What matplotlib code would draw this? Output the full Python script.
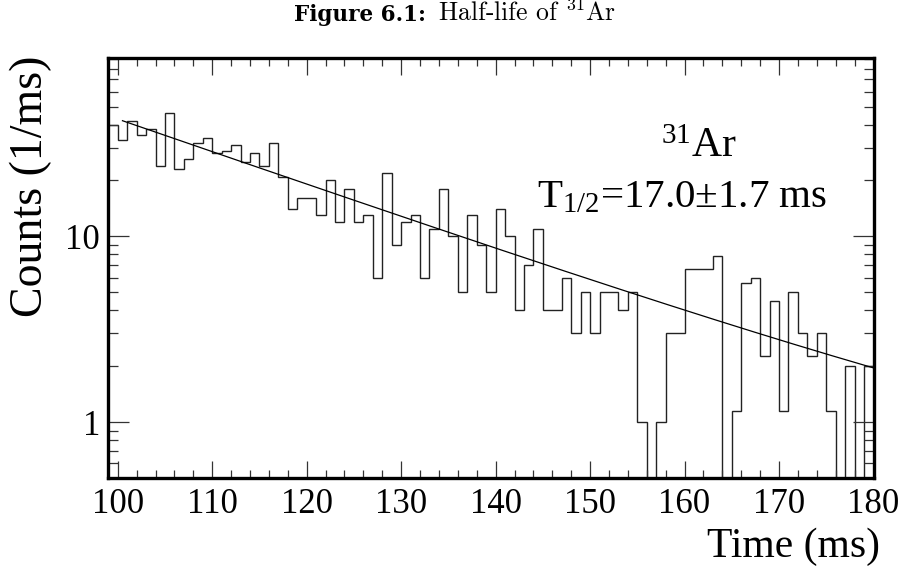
import numpy as np
import matplotlib
matplotlib.use("Agg")
import matplotlib.pyplot as plt
from matplotlib.ticker import FixedLocator, NullFormatter, LogLocator

plt.rcParams['font.family'] = ['Liberation Serif', 'DejaVu Serif']
plt.rcParams['mathtext.fontset'] = 'custom'
plt.rcParams['mathtext.rm'] = 'Liberation Serif'
plt.rcParams['mathtext.it'] = 'Liberation Serif:italic'
plt.rcParams['mathtext.bf'] = 'Liberation Serif:bold'

# ---- data: counts per 1-ms bin, bins starting at 99 ms ----
bin_start = 99
bin_width = 1
counts = [40, 33, 42, 35, 38, 24, 46, 23, 26, 32,
          34, 28, 29, 31, 25, 28, 24, 32, 21, 14,
          16, 16, 13, 20, 12, 18, 12, 13, 6, 22,
          9, 12, 13, 6, 11, 18, 10, 5, 13, 9,
          5, 14, 10, 4, 7, 11, 4, 4, 6, 3,
          5, 3, 5, 5, 4, 5, 1, 0, 1, 3,
          3, 6.7, 6.7, 6.7, 7.8, 0, 1.15, 5.6, 6.0, 2.26,
          4.5, 1.15, 5, 3, 2.26, 3, 1.15, 0, 2, 0,
          2]

# fit: A*exp(-ln2 (t-100)/T) + B
T_half = 17.0
T_err = 1.7
fit_amp = 42.5
fit_bkg = 0.33
fit_start = 100.5
fit_end = 180.0

x_ticks = [100, 110, 120, 130, 140, 150, 160, 170, 180]
y_ticks = [1, 10]

counts = np.array(counts, dtype=float)
edges = bin_start + bin_width * np.arange(len(counts) + 1)

fig = plt.figure(figsize=(9.05, 5.70), dpi=100)
ax = fig.add_axes([108.3/905, 1-478/570, (873.5-108.3)/905, (478-58.3)/570])

ax.set_yscale('log', nonpositive='clip')
ax.stairs(counts, edges, baseline=None, color='#222222', lw=1.0)

tt = np.linspace(fit_start, fit_end, 400)
ff = fit_amp * np.exp(-np.log(2) * (tt - 100) / T_half) + fit_bkg
ax.plot(tt, ff, color='black', lw=0.9)

ax.set_xlim(99, 180)
ax.set_ylim(0.5, 91)

ax.xaxis.set_major_locator(FixedLocator(x_ticks))
ax.xaxis.set_minor_locator(FixedLocator(np.arange(100, 181, 2)))
ax.set_xticklabels([str(v) for v in x_ticks])
ax.yaxis.set_major_locator(FixedLocator(y_ticks))
ax.set_yticklabels([str(v) for v in y_ticks])
ax.yaxis.set_minor_locator(LogLocator(base=10, subs=np.arange(2, 10)))
ax.yaxis.set_minor_formatter(NullFormatter())

ax.tick_params(axis='both', which='both', direction='in', top=True, right=True,
               width=0.9, color='#333333')
ax.tick_params(axis='x', which='major', length=12.5, pad=7, labelsize=25)
ax.tick_params(axis='x', which='minor', length=6)
ax.tick_params(axis='y', which='major', length=15, pad=6, labelsize=25)
ax.tick_params(axis='y', which='minor', length=7.5)
for s in ax.spines.values():
    s.set_linewidth(2.4)

fig.text(880/905, 1-547/570, 'Time (ms)', ha='right', va='center', fontsize=30)
fig.text(31/905, 1-56/570, 'Counts (1/ms)', rotation=90,
         ha='center', va='top', fontsize=33)

ax.text(0.822, 0.765, r'$^{31}$Ar', transform=ax.transAxes, ha='right',
        va='baseline', fontsize=30)
ax.text(0.56, 0.645, r'T$_{1/2}$=17.0$\pm$1.7 ms', transform=ax.transAxes,
        ha='left', va='baseline', fontsize=29.5)

# caption
cap_y = 1 - 21/570
fig.text(426/905, cap_y, 'Figure 6.1:', ha='right', va='baseline',
         fontsize=15.5, family='DejaVu Serif', weight='bold')
fig.text(438/905, cap_y, r'Half-life of $^{31}$Ar', ha='left', va='baseline',
         fontsize=18.5, family='cmr10', math_fontfamily='cm')

fig.savefig('out.png', dpi=100)
